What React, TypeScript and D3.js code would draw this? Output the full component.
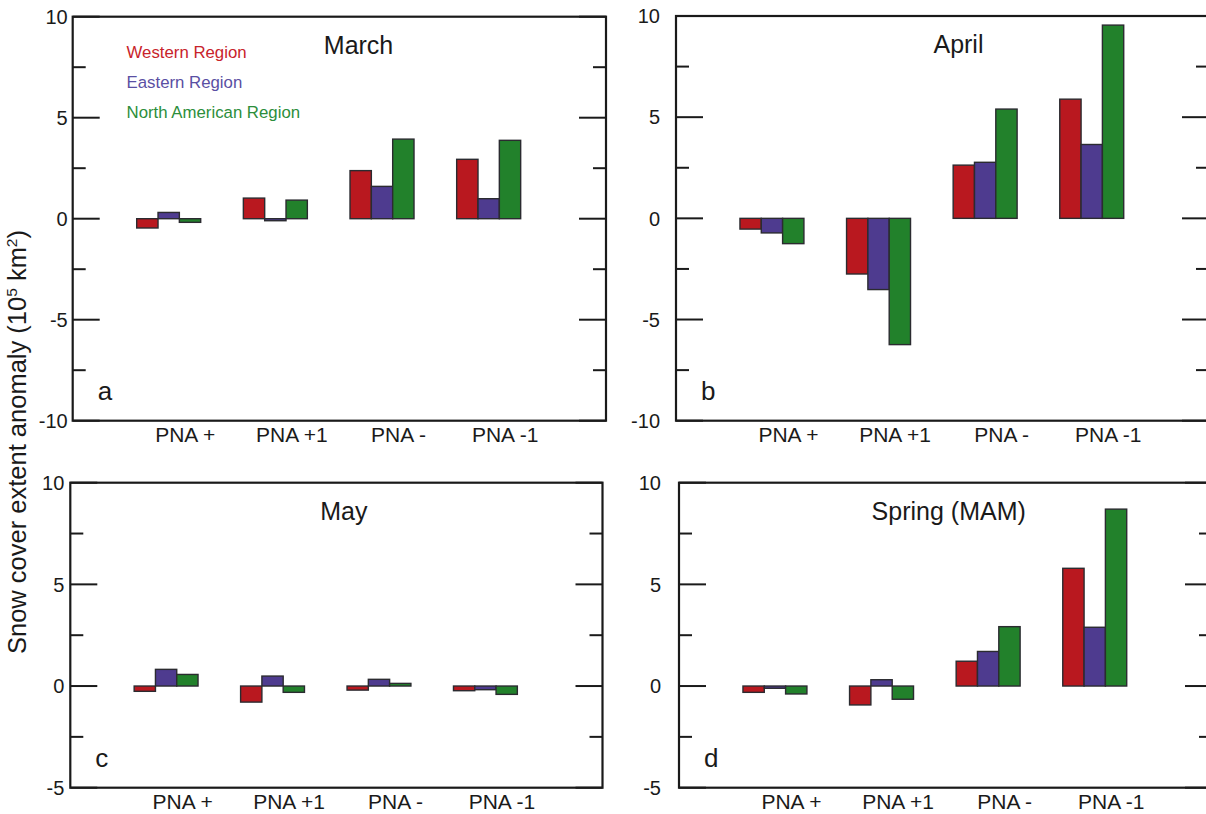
import React from "react";
import * as d3 from "d3";

// ---- Data ----
const categories = ["PNA +", "PNA +1", "PNA -", "PNA -1"];
const seriesNames = ["Western Region", "Eastern Region", "North American Region"];

const marchWestern = [-0.46, 1.02, 2.38, 2.94];
const marchEastern = [0.31, -0.1, 1.6, 0.99];
const marchNorthAm = [-0.18, 0.92, 3.94, 3.88];

const aprilWestern = [-0.53, -2.75, 2.63, 5.89];
const aprilEastern = [-0.72, -3.52, 2.77, 3.65];
const aprilNorthAm = [-1.25, -6.24, 5.4, 9.55];

const mayWestern = [-0.26, -0.79, -0.2, -0.23];
const mayEastern = [0.82, 0.49, 0.33, -0.18];
const mayNorthAm = [0.57, -0.31, 0.13, -0.41];

const springWestern = [-0.31, -0.93, 1.22, 5.79];
const springEastern = [-0.11, 0.31, 1.7, 2.89];
const springNorthAm = [-0.39, -0.65, 2.92, 8.7];

const ticksA = [-10, -5, 0, 5, 10];
const minorA = [-7.5, -2.5, 2.5, 7.5];
const ticksC = [-5, 0, 5, 10];
const minorC = [-2.5, 2.5, 7.5];

const barColors = ["#B9181F", "#4E3B8F", "#22812B"];
const legendColors = ["#C8232B", "#5A4FA3", "#2C8E3B"];

const FONT = "'Liberation Sans', Arial, Helvetica, sans-serif";

interface PanelCfg {
  title: string;
  letter: string;
  left: number;
  right: number;
  top: number;
  bottom: number;
  domain: [number, number];
  ticks: number[];
  minor: number[];
  labelGap: number;
  titleX: number;
  values: number[][];
  legend?: boolean;
}

const panels: PanelCfg[] = [
  {
    title: "March", letter: "a", left: 72.7, right: 606, top: 16.7, bottom: 420.7,
    domain: [-10, 10], ticks: ticksA, minor: minorA, labelGap: 5, titleX: 2.68,
    values: [marchWestern, marchEastern, marchNorthAm], legend: true,
  },
  {
    title: "April", letter: "b", left: 676, right: 1209, top: 16, bottom: 420.7,
    domain: [-10, 10], ticks: ticksA, minor: minorA, labelGap: 16, titleX: 2.65,
    values: [aprilWestern, aprilEastern, aprilNorthAm],
  },
  {
    title: "May", letter: "c", left: 70.3, right: 602.5, top: 482.7, bottom: 787.7,
    domain: [-5, 10], ticks: ticksC, minor: minorC, labelGap: 6, titleX: 2.57,
    values: [mayWestern, mayEastern, mayNorthAm],
  },
  {
    title: "Spring (MAM)", letter: "d", left: 679, right: 1212, top: 482.7, bottom: 787.7,
    domain: [-5, 10], ticks: ticksC, minor: minorC, labelGap: 18, titleX: 2.53,
    values: [springWestern, springEastern, springNorthAm],
  },
];

function Panel({ cfg }: { cfg: PanelCfg }) {
  const x = d3.scaleLinear().domain([0, 5]).range([cfg.left, cfg.right]);
  const y = d3.scaleLinear().domain(cfg.domain).range([cfg.bottom, cfg.top]);
  const barW = 0.2;
  const majorLen = 27;
  const minorLen = 13;
  return (
    <g>
      {categories.map((c, gi) =>
        cfg.values.map((vals, si) => {
          const v = vals[gi];
          const x0 = x(gi + 1 - 0.4 + si * barW);
          const x1 = x(gi + 1 - 0.4 + (si + 1) * barW);
          const y0 = y(Math.max(0, v));
          const y1 = y(Math.min(0, v));
          return (
            <rect
              key={`${c}-${si}`}
              x={x0}
              y={y0}
              width={x1 - x0}
              height={Math.max(1, y1 - y0)}
              fill={barColors[si]}
              stroke="#2b2b30"
              strokeWidth={1.4}
            />
          );
        })
      )}
      {cfg.ticks.map((t) => (
        <g key={`t${t}`}>
          <line x1={cfg.left} x2={cfg.left + majorLen} y1={y(t)} y2={y(t)} stroke="#1a1a1a" strokeWidth={2} />
          <line x1={cfg.right - majorLen} x2={cfg.right} y1={y(t)} y2={y(t)} stroke="#1a1a1a" strokeWidth={2} />
          <text
            x={cfg.left - cfg.labelGap}
            y={y(t)}
            dy="0.36em"
            textAnchor="end"
            fontSize={20}
            fontFamily={FONT}
            fill="#1a1a1a"
          >
            {t}
          </text>
        </g>
      ))}
      {cfg.minor.map((t) => (
        <g key={`m${t}`}>
          <line x1={cfg.left} x2={cfg.left + minorLen} y1={y(t)} y2={y(t)} stroke="#1a1a1a" strokeWidth={2} />
          <line x1={cfg.right - minorLen} x2={cfg.right} y1={y(t)} y2={y(t)} stroke="#1a1a1a" strokeWidth={2} />
        </g>
      ))}
      <rect
        x={cfg.left}
        y={cfg.top}
        width={cfg.right - cfg.left}
        height={cfg.bottom - cfg.top}
        fill="none"
        stroke="#1a1a1a"
        strokeWidth={2.2}
      />
      {categories.map((c, gi) => (
        <text
          key={c}
          x={x(gi + 1.055)}
          y={cfg.bottom + 21}
          textAnchor="middle"
          fontSize={21}
          fontFamily={FONT}
          fill="#1a1a1a"
        >
          {c}
        </text>
      ))}
      <text
        x={x(cfg.titleX)}
        y={cfg.top + 37}
        textAnchor="middle"
        fontSize={25}
        fontFamily={FONT}
        fill="#1a1a1a"
      >
        {cfg.title}
      </text>
      <text
        x={cfg.left + 25}
        y={cfg.bottom - 21}
        fontSize={26}
        fontFamily={FONT}
        fill="#1a1a1a"
      >
        {cfg.letter}
      </text>
      {cfg.legend &&
        seriesNames.map((s, si) => (
          <text
            key={s}
            x={x(0.505)}
            y={cfg.top + 41.3 + si * 30.2}
            fontSize={16.8}
            fontFamily={FONT}
            fill={legendColors[si]}
          >
            {s}
          </text>
        ))}
    </g>
  );
}

export default function App() {
  return (
    <svg
      width={1206}
      height={814}
      viewBox="0 0 1206 814"
      style={{ position: "absolute", left: 0, top: 0, background: "#fff" }}
    >
      <rect x={0} y={0} width={1206} height={814} fill="#fff" />
      {panels.map((p) => (
        <Panel key={p.letter} cfg={p} />
      ))}
      <text
        transform="translate(26,442) rotate(-90)"
        textAnchor="middle"
        fontSize={25.5}
        fontFamily={FONT}
        fill="#1a1a1a"
      >
        Snow cover extent anomaly (10
        <tspan fontSize={15.5} dy={-9.5}>5</tspan>
        <tspan dy={9.5}> km</tspan>
        <tspan fontSize={15.5} dy={-9.5}>2</tspan>
        <tspan dy={9.5}>)</tspan>
      </text>
    </svg>
  );
}
